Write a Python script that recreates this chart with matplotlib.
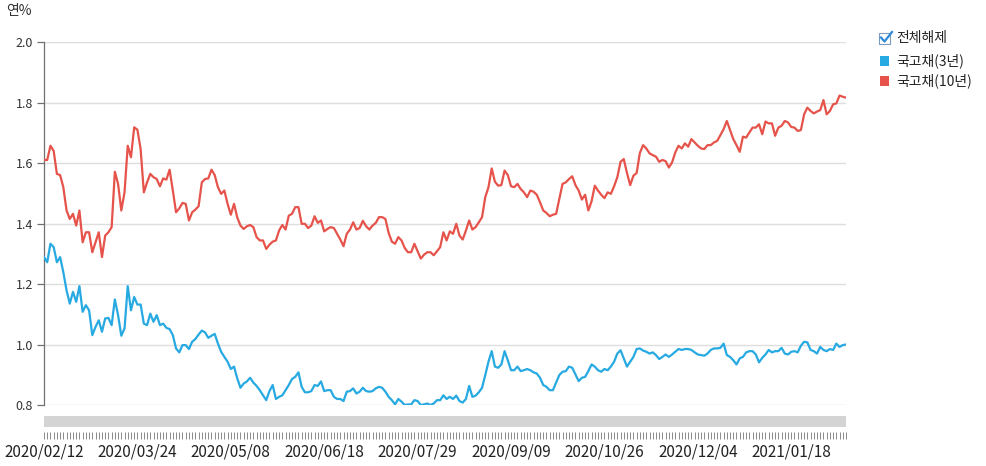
import matplotlib
matplotlib.use('Agg')
import matplotlib.pyplot as plt
from matplotlib.patches import Rectangle
from matplotlib.lines import Line2D

plt.rcParams['font.family'] = ['Noto Sans CJK KR', 'DejaVu Sans']

# ---------------- data ----------------
series_names = ['국고채(3년)', '국고채(10년)']

kr10 = [
    1.61, 1.61, 1.657, 1.64, 1.564, 1.56, 1.52, 1.443, 1.415, 1.432,
    1.393, 1.443, 1.338, 1.371, 1.371, 1.305, 1.338, 1.371, 1.289, 1.36,
    1.371, 1.388, 1.571, 1.531, 1.443, 1.503, 1.657, 1.619, 1.718, 1.71,
    1.646, 1.503, 1.536, 1.564, 1.553, 1.547, 1.523, 1.549, 1.545, 1.578,
    1.509, 1.437, 1.45, 1.468, 1.465, 1.41, 1.437, 1.446, 1.457, 1.536,
    1.547, 1.549, 1.578, 1.56, 1.52, 1.498, 1.509, 1.465, 1.429, 1.465,
    1.42, 1.393, 1.382,
    1.391, 1.395, 1.388, 1.355, 1.344, 1.344, 1.316, 1.33, 1.34, 1.344,
    1.377, 1.395, 1.38, 1.426, 1.432, 1.454, 1.454, 1.399, 1.399, 1.385,
    1.393, 1.424, 1.402, 1.41, 1.374, 1.382, 1.388, 1.385, 1.366, 1.347,
    1.325, 1.366, 1.38, 1.404, 1.38, 1.385, 1.409, 1.391, 1.38, 1.393,
    1.402, 1.421, 1.421, 1.415, 1.369, 1.34, 1.333, 1.355, 1.344, 1.319,
    1.305, 1.305, 1.333, 1.308, 1.284, 1.297, 1.305, 1.305, 1.295, 1.308,
    1.322, 1.371,
    1.344, 1.374, 1.366, 1.399, 1.36, 1.347, 1.377, 1.41, 1.38, 1.388,
    1.404, 1.421, 1.487, 1.52, 1.582, 1.538, 1.525, 1.527, 1.575, 1.56,
    1.523, 1.52, 1.531, 1.514, 1.503, 1.487, 1.509, 1.505, 1.495, 1.47,
    1.443, 1.435, 1.424, 1.429, 1.432, 1.481, 1.531, 1.536, 1.547, 1.556,
    1.527, 1.509, 1.479, 1.495, 1.443, 1.473, 1.525, 1.509, 1.495, 1.484,
    1.503, 1.498, 1.523, 1.553, 1.604, 1.613, 1.567, 1.527, 1.558, 1.567,
    1.633, 1.659,
    1.648, 1.632, 1.626, 1.621, 1.604, 1.61, 1.606, 1.585, 1.602, 1.635,
    1.657, 1.648, 1.665, 1.654, 1.679, 1.668, 1.657, 1.648, 1.646, 1.659,
    1.659, 1.668, 1.673, 1.692, 1.712, 1.739, 1.709, 1.679, 1.659, 1.637,
    1.687, 1.684, 1.701, 1.717, 1.717, 1.728, 1.695, 1.737, 1.731, 1.731,
    1.69, 1.717, 1.723, 1.739, 1.734, 1.719, 1.717, 1.706, 1.709, 1.761,
    1.783, 1.772, 1.764, 1.77, 1.775, 1.808, 1.761, 1.772, 1.794, 1.797,
    1.823, 1.819, 1.816,
]

kr3 = [
    1.289, 1.272, 1.333, 1.322, 1.272, 1.289, 1.239, 1.179, 1.135, 1.174,
    1.141, 1.193, 1.108, 1.13, 1.113, 1.031, 1.058, 1.08, 1.042, 1.086,
    1.088, 1.064, 1.149, 1.097, 1.029, 1.053, 1.193, 1.113, 1.157, 1.132,
    1.132, 1.069, 1.064, 1.102, 1.075, 1.097, 1.064, 1.069, 1.055, 1.051,
    1.031, 0.987, 0.974, 0.998, 0.998, 0.985, 1.009, 1.018, 1.033, 1.046,
    1.04, 1.022, 1.029, 1.035, 1.003, 0.976, 0.959, 0.943, 0.919, 0.927,
    0.888, 0.857, 0.871,
    0.878, 0.89, 0.874, 0.863, 0.849, 0.832, 0.816, 0.846, 0.866, 0.82,
    0.827, 0.832, 0.849, 0.866, 0.886, 0.893, 0.908, 0.86, 0.842, 0.842,
    0.846, 0.866, 0.863, 0.878, 0.846, 0.849, 0.849, 0.827, 0.82, 0.82,
    0.813, 0.844, 0.846, 0.855, 0.838, 0.844, 0.857, 0.846, 0.844, 0.846,
    0.855, 0.86, 0.857, 0.844, 0.827, 0.816, 0.802, 0.82, 0.811, 0.8,
    0.802, 0.802, 0.816, 0.813, 0.8, 0.802, 0.805, 0.8, 0.805, 0.816,
    0.816, 0.832,
    0.82, 0.827, 0.82, 0.831, 0.813, 0.808, 0.82, 0.863, 0.827, 0.831,
    0.842, 0.857, 0.899, 0.943, 0.978, 0.927, 0.923, 0.934, 0.978, 0.948,
    0.915, 0.915, 0.927, 0.912, 0.915, 0.919, 0.915, 0.908, 0.904, 0.89,
    0.866, 0.86, 0.849, 0.849, 0.874, 0.899, 0.91, 0.912, 0.927, 0.923,
    0.901, 0.879, 0.89, 0.893, 0.912, 0.934, 0.927, 0.915, 0.91, 0.919,
    0.915, 0.927, 0.943, 0.97, 0.981, 0.954, 0.927, 0.943, 0.959, 0.985,
    0.987, 0.98,
    0.976, 0.97, 0.974, 0.965, 0.952, 0.959, 0.967, 0.959, 0.967, 0.976,
    0.985, 0.982, 0.985, 0.985, 0.982, 0.974, 0.967, 0.965, 0.963, 0.97,
    0.982, 0.987, 0.987, 0.989, 1.003, 0.965, 0.959, 0.948, 0.934, 0.954,
    0.959, 0.974, 0.978, 0.978, 0.967, 0.941, 0.956, 0.967, 0.982, 0.974,
    0.978, 0.978, 0.989, 0.97, 0.967, 0.976, 0.978, 0.974, 0.996, 1.009,
    1.007, 0.982, 0.978, 0.97, 0.992, 0.982, 0.978, 0.985, 0.982, 1.003,
    0.992, 0.998, 1.0,
]

tick_labels = ['2020/02/12', '2020/03/24', '2020/05/08', '2020/06/18',
               '2020/07/29', '2020/09/09', '2020/10/26', '2020/12/04',
               '2021/01/18']
label_step = 29
y_ticks = [0.8, 1.0, 1.2, 1.4, 1.6, 1.8, 2.0]

# ---------------- figure ----------------
W, H = 986, 466
fig = plt.figure(figsize=(W / 100, H / 100), dpi=100)


def fx(px):
    return px / W


def fy(py):
    return 1 - py / H


L, R, T, B = 44, 846, 42, 405
ax = fig.add_axes([fx(L), fy(B), fx(R) - fx(L), fy(T) - fy(B)])

blue = '#27a9e1'
red = '#e5534b'
n = len(kr10)
xs = list(range(n))
ax.plot(xs, kr3, color=blue, lw=1.6, zorder=3)
ax.plot(xs, kr10, color=red, lw=1.6, zorder=3)

ax.set_xlim(0, n - 1)
ax.set_ylim(0.8, 2.0)
ax.set_yticks(y_ticks)
ax.set_yticklabels([f'{v:.1f}' for v in y_ticks])
ax.grid(axis='y', color='#dedede', lw=1.0, zorder=0)
ax.set_axisbelow(True)

for s in ['top', 'right']:
    ax.spines[s].set_visible(False)
ax.spines['left'].set_color('#707070')
ax.spines['left'].set_linewidth(0.9)
ax.spines['bottom'].set_position(('outward', 27 * 0.72))
ax.spines['bottom'].set_visible(False)

ax.set_xticks([i * label_step for i in range(len(tick_labels))])
ax.set_xticklabels(tick_labels)
ax.set_xticks(xs, minor=True)
ax.tick_params(axis='x', which='both', length=5, width=0.7, color='#8a8a8a',
               direction='out')
ax.tick_params(axis='x', which='major', labelsize=11, pad=3,
               labelcolor='#222222')
ax.tick_params(axis='y', length=5, width=0.9, color='#707070', labelsize=9,
               pad=3, labelcolor='#333333')

# scrollbar-like grey band
fig.add_artist(Rectangle((fx(L), fy(427)), fx(R) - fx(L), fy(416) - fy(427),
                         transform=fig.transFigure, color='#d4d4d4', lw=0))

# unit label
fig.text(fx(6), fy(11), '연%', fontsize=10, ha='left', va='center',
         color='#333333')

# legend
fig.add_artist(Rectangle((fx(879), fy(44)), fx(11), fy(0) - fy(11),
                         transform=fig.transFigure, facecolor='white',
                         edgecolor='#7a9cc0', lw=0.8))
fig.add_artist(Line2D([fx(881), fx(884.5), fx(892)],
                      [fy(37.5), fy(41.5), fy(32)],
                      transform=fig.transFigure, color='#2f8ad8', lw=1.6))
fig.text(fx(896), fy(38), '전체해제', fontsize=10, ha='left', va='center',
         color='#222222')
leg_y = [61, 81]
for name, col, yy in zip(series_names, [blue, red], leg_y):
    fig.add_artist(Rectangle((fx(880), fy(yy + 4.5)), fx(9), fy(0) - fy(9),
                             transform=fig.transFigure, color=col, lw=0))
    fig.text(fx(896), fy(yy), name, fontsize=10, ha='left', va='center',
             color='#222222')

fig.savefig('out.png', dpi=100)
